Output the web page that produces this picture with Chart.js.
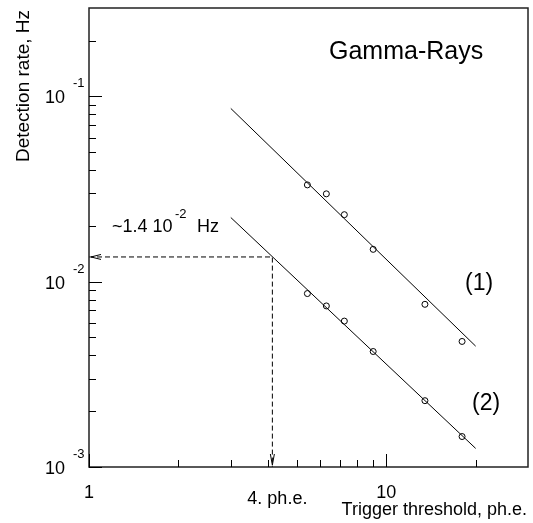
<!DOCTYPE html>
<html>
<head>
<meta charset="utf-8">
<title>Gamma-Rays detection rate</title>
<script src="https://cdn.jsdelivr.net/npm/chart.js@4/dist/chart.umd.min.js"></script>
<style>
  body { margin: 0; background: #fff; }
  #wrap { width: 533px; height: 523px; }
</style>
</head>
<body>
<div id="wrap"><canvas id="rateChart" width="533" height="523"></canvas></div>
<script>
// Measured points (trigger threshold, ph.e. / detection rate, Hz)
const thresholds = [5.43, 6.29, 7.23, 9.04, 13.5, 18.0];
const rate1 = [0.0333, 0.0298, 0.0230, 0.01495, 0.00755, 0.00476];
const rate2 = [0.00863, 0.0074, 0.00613, 0.0042, 0.00228, 0.00146];

// Fitted power-law lines (end points)
const fitX = [3, 20];
const fit1Y = [0.0861, 0.00449];
const fit2Y = [0.0222, 0.00126];

// Read-off guide: 4 ph.e. -> ~1.4e-2 Hz
const guideX = [1, 4.14, 4.14];
const guideY = [0.0136, 0.0136, 0.001];

// Axis ranges and ticks
const xMin = 1, xMax = 30;
const yMin = 0.001, yMax = 0.3;
const xMajor = [1, 10];
const xMinor = [2, 3, 4, 5, 6, 7, 8, 9, 20];
const yMajor = [0.001, 0.01, 0.1];
const yMajorExp = ["-3", "-2", "-1"];
const yMinor = [0.002, 0.003, 0.004, 0.005, 0.006, 0.007, 0.008, 0.009,
  0.02, 0.03, 0.04, 0.05, 0.06, 0.07, 0.08, 0.09, 0.2];

const FONT = '"Liberation Sans", Arial, sans-serif';

function toXY(xs, ys) {
  return xs.map((x, i) => ({ x: x, y: ys[i] }));
}

// Frame, ticks, labels and annotations drawn like the original ROOT plot
const framePlugin = {
  id: "frame",
  afterDraw(chart) {
    const ctx = chart.ctx;
    const a = chart.chartArea;
    const xs = chart.scales.x;
    const ys = chart.scales.y;
    ctx.save();

    // box
    ctx.strokeStyle = "#222";
    ctx.lineWidth = 1.5;
    ctx.strokeRect(a.left, a.top, a.right - a.left, a.bottom - a.top);

    // ticks
    ctx.strokeStyle = "#000";
    ctx.lineWidth = 1;
    ctx.beginPath();
    yMajor.forEach((v) => {
      const py = Math.round(ys.getPixelForValue(v)) + 0.5;
      ctx.moveTo(a.left, py);
      ctx.lineTo(a.left + 13, py);
    });
    yMinor.forEach((v) => {
      const py = Math.round(ys.getPixelForValue(v)) + 0.5;
      ctx.moveTo(a.left, py);
      ctx.lineTo(a.left + 7, py);
    });
    xMajor.forEach((v) => {
      const px = Math.round(xs.getPixelForValue(v)) + 0.5;
      ctx.moveTo(px, a.bottom);
      ctx.lineTo(px, a.bottom - 13);
    });
    xMinor.forEach((v) => {
      const px = Math.round(xs.getPixelForValue(v)) + 0.5;
      ctx.moveTo(px, a.bottom);
      ctx.lineTo(px, a.bottom - 7);
    });
    ctx.stroke();

    // y tick labels 10^n
    ctx.fillStyle = "#000";
    yMajor.forEach((v, i) => {
      const py = ys.getPixelForValue(v);
      ctx.font = "18px " + FONT;
      ctx.textAlign = "right";
      ctx.fillText("10", 65, py + 7);
      ctx.font = "13px " + FONT;
      ctx.textAlign = "left";
      ctx.fillText(yMajorExp[i], 73, py - 9);
    });

    // x tick labels
    ctx.font = "18px " + FONT;
    ctx.textAlign = "center";
    xMajor.forEach((v) => {
      ctx.fillText(String(v), xs.getPixelForValue(v), 498);
    });
    ctx.fillText("4. ph.e.", xs.getPixelForValue(guideX[1]) + 5, 504);

    // axis titles
    ctx.textAlign = "right";
    ctx.fillText("Trigger threshold, ph.e.", 527, 515);
    ctx.save();
    ctx.font = "19px " + FONT;
    ctx.translate(29, 10);
    ctx.rotate(-Math.PI / 2);
    ctx.fillText("Detection rate, Hz", 0, 0);
    ctx.restore();

    // annotations
    ctx.textAlign = "left";
    ctx.font = "25px " + FONT;
    ctx.fillText("Gamma-Rays", 329, 59);
    ctx.font = "23px " + FONT;
    ctx.fillText("(1)", 465, 290);
    ctx.fillText("(2)", 472, 410);
    ctx.font = "18px " + FONT;
    ctx.fillText("~1.4 10", 112, 232);
    ctx.fillText("Hz", 197, 232);
    ctx.font = "13px " + FONT;
    ctx.fillText("-2", 175, 218);

    // open arrow heads of the guide
    const gy = ys.getPixelForValue(guideY[0]);
    const gx = xs.getPixelForValue(guideX[1]);
    const tipL = xs.getPixelForValue(guideX[0]) + 2;
    const tipB = ys.getPixelForValue(guideY[2]) - 2;
    ctx.strokeStyle = "#000";
    ctx.lineWidth = 1;
    ctx.beginPath();
    ctx.moveTo(tipL + 10, gy - 2.5);
    ctx.lineTo(tipL, gy);
    ctx.lineTo(tipL + 10, gy + 2.5);
    ctx.moveTo(gx - 2, tipB - 11);
    ctx.lineTo(gx, tipB);
    ctx.lineTo(gx + 2, tipB - 11);
    ctx.stroke();

    ctx.restore();
  },
};

const pointStyle = {
  showLine: false,
  pointStyle: "circle",
  pointRadius: 3,
  pointBorderWidth: 1,
  borderColor: "#000",
  backgroundColor: "rgba(0,0,0,0)",
};

const lineStyle = {
  showLine: true,
  pointRadius: 0,
  borderWidth: 1,
  borderColor: "#000",
  fill: false,
};

function initChart() {
  const ctx = document.getElementById("rateChart").getContext("2d");
  new Chart(ctx, {
    type: "scatter",
    data: {
      datasets: [
        Object.assign({ label: "fit (1)", data: toXY(fitX, fit1Y) }, lineStyle),
        Object.assign({ label: "fit (2)", data: toXY(fitX, fit2Y) }, lineStyle),
        Object.assign({ label: "(1)", data: toXY(thresholds, rate1) }, pointStyle),
        Object.assign({ label: "(2)", data: toXY(thresholds, rate2) }, pointStyle),
        Object.assign(
          { label: "guide", data: toXY(guideX, guideY), borderDash: [5, 3] },
          lineStyle
        ),
      ],
    },
    options: {
      responsive: false,
      animation: false,
      layout: { padding: { left: 89, top: 8, right: 5, bottom: 56 } },
      scales: {
        x: { type: "logarithmic", min: xMin, max: xMax, display: false },
        y: { type: "logarithmic", min: yMin, max: yMax, display: false },
      },
      plugins: {
        legend: { display: false },
        tooltip: { enabled: false },
      },
    },
    plugins: [framePlugin],
  });
}

initChart();
</script>
</body>
</html>
